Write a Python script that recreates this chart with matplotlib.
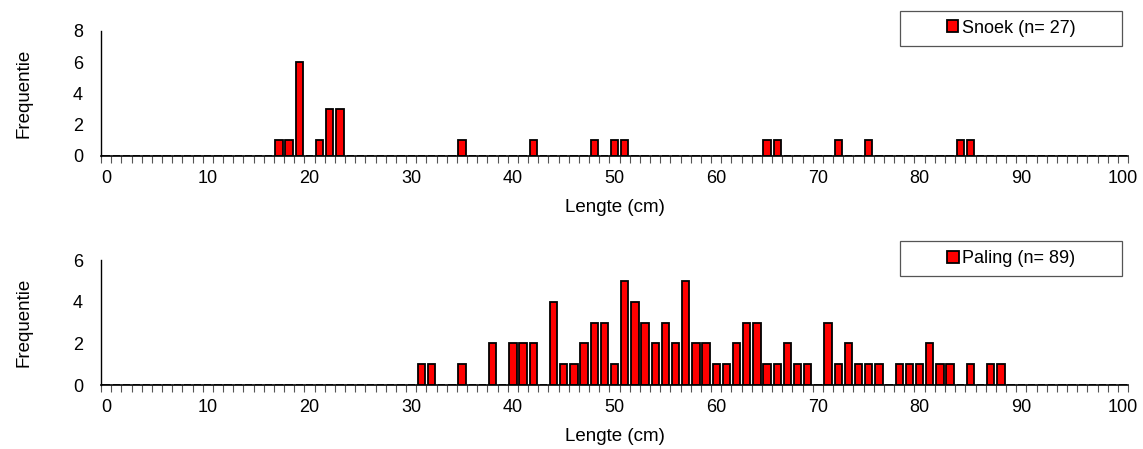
import numpy as np
import matplotlib.pyplot as plt
from matplotlib.patches import Rectangle

plt.switch_backend("agg")
plt.rcParams["font.family"] = ["Liberation Sans", "DejaVu Sans"]

# lengte klassen (cm)
lengte = np.arange(0, 101)

snoek_cm = [17, 18, 19, 21, 22, 23, 35, 42, 48, 50, 51, 65, 66, 72, 75, 84, 85]
snoek_n = [1, 1, 6, 1, 3, 3, 1, 1, 1, 1, 1, 1, 1, 1, 1, 1, 1]

paling_cm = [31, 32, 35, 38, 40, 41, 42, 44, 45, 46, 47, 48, 49, 50, 51, 52, 53,
             54, 55, 56, 57, 58, 59, 60, 61, 62, 63, 64, 65, 66, 67, 68, 69, 71,
             72, 73, 74, 75, 76, 78, 79, 80, 81, 82, 83, 85, 87, 88]
paling_n = [1, 1, 1, 2, 2, 2, 2, 4, 1, 1, 2, 3, 3, 1, 5, 4, 3,
            2, 3, 2, 5, 2, 2, 1, 1, 2, 3, 3, 1, 1, 2, 1, 1, 3,
            1, 2, 1, 1, 1, 1, 1, 1, 2, 1, 1, 1, 1, 1]

panels = [
    ("Snoek (n= 27)", snoek_cm, snoek_n, 8, [0.0884, 0.6526, 0.8985, 0.2784], 0.898),
    ("Paling (n= 89)", paling_cm, paling_n, 6, [0.0884, 0.1425, 0.8985, 0.2784], 0.385),
]

fig = plt.figure(figsize=(11.43, 4.49), dpi=100)

for label, xs, ns, ymax, rect, leg_y in panels:
    counts = np.zeros(len(lengte))
    for x, n in zip(xs, ns):
        counts[x] = n
    ax = fig.add_axes(rect)
    bars = ax.bar(lengte, counts, width=0.72, color="#ff0000",
                  edgecolor="black", linewidth=1.3, label=label)
    ax.set_xlim(-0.5, 100.5)
    ax.set_ylim(0, ymax)
    ax.set_yticks(np.arange(0, ymax + 1, 2))
    ax.set_xticks(np.arange(0, 101, 10))
    ax.set_xticks(np.arange(-0.5, 101, 1), minor=True)
    ax.tick_params(axis="x", which="major", length=0, pad=10, labelsize=13)
    ax.tick_params(axis="x", which="minor", length=5, width=0.8,
                   color="#555555", direction="out")
    ax.tick_params(axis="y", length=0, pad=13, labelsize=13)
    for s in ["top", "right"]:
        ax.spines[s].set_visible(False)
    ax.spines["left"].set_linewidth(1.0)
    ax.spines["bottom"].set_linewidth(1.2)
    ax.set_xlabel("Lengte (cm)", fontsize=13.5, labelpad=9)
    ax.set_ylabel("Frequentie", fontsize=13.5, labelpad=29)

    # legendakader
    bx, bw, bh = 900 / 1143, 222 / 1143, 35 / 449
    fig.patches.append(Rectangle((bx, leg_y), bw, bh, transform=fig.transFigure,
                                 facecolor="white", edgecolor="#555555",
                                 linewidth=0.9, zorder=5))
    fig.legend(handles=[bars], labels=[label], loc="center",
               bbox_to_anchor=(bx + bw / 2, leg_y + bh / 2), frameon=False,
               fontsize=13, handlelength=0.65, handleheight=0.65,
               handletextpad=0.2, borderpad=0)

fig.savefig("out.png", dpi=100)
